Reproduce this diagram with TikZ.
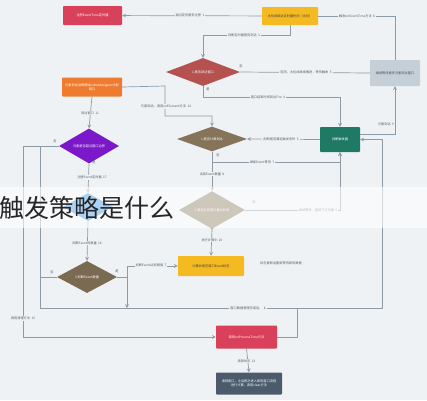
\documentclass[tikz,border=0pt]{standalone}
\usepackage{fontspec}
\setmainfont{Noto Sans CJK SC}
\usepackage{tikz}
\usetikzlibrary{shapes,arrows,positioning}

\definecolor{bgcol}{HTML}{EEF2F5}
\definecolor{linecol}{HTML}{8C9BA6}
\definecolor{redcol}{HTML}{D9415A}
\definecolor{yellowcol}{HTML}{F5B921}
\definecolor{graycol}{HTML}{C5CFD8}
\definecolor{rustcol}{HTML}{B5524F}
\definecolor{orangecol}{HTML}{EE7B30}
\definecolor{tancol}{HTML}{857459}
\definecolor{greencol}{HTML}{1E7A64}
\definecolor{purplecol}{HTML}{7B18C9}
\definecolor{bluecol}{HTML}{2E8FE0}
\definecolor{browncol}{HTML}{7B6A52}
\definecolor{darkcol}{HTML}{4B5B6B}
\definecolor{txtcol}{HTML}{555F66}

\newcommand\lblfont{\fontsize{3.2}{3.9}\selectfont}

\begin{document}
\begin{tikzpicture}[x=1pt, y=-1pt]
			\tikzstyle{Box}		= [rectangle, rounded corners=0.8pt, inner sep=1pt, align=center, font=\lblfont, text=white]
			\tikzstyle{Decision}	= [diamond, inner sep=0pt, align=center, font=\lblfont, text=white]
			\tikzstyle{Label}	= [fill=bgcol, inner sep=1pt, font=\lblfont, text=txtcol]
			\tikzstyle{Mark}	= [inner sep=0pt, font=\lblfont, text=txtcol]
			\tikzstyle{Link}	= [linecol, line width=0.7pt, rounded corners=2pt, >=stealth]

			\useasboundingbox (0,0) rectangle (427,400);
			\fill [bgcol] (0,0) rectangle (427,400);

			\node (b1) at (92.5,15.5) [Box][fill=redcol, minimum width=59pt, minimum height=19pt] {注册EventTime定时器};
			\node (b2) at (290,16) [Box][fill=yellowcol, text=black!75, minimum width=56pt, minimum height=18pt] {水位线到达定时器时间（水位）};
			\node (b3) at (395,73) [Box][fill=graycol, text=black!70, minimum width=50pt, minimum height=26pt] {继续等待更多元素到达窗口};
			\node (b4) at (92,87) [Box][fill=orangecol, minimum width=60pt, minimum height=19pt] {元素到达后根据WindowAssigner分配\\窗口};
			\node (b5) at (340,139.5) [Box][fill=greencol, minimum width=40pt, minimum height=25pt] {判断触发器};
			\node (b6) at (211,266) [Box][fill=yellowcol, text=black!75, minimum width=66pt, minimum height=20pt] {计算并清空窗口Event状态};
			\node (b7) at (246.5,337) [Box][fill=redcol, minimum width=61pt, minimum height=23pt] {调用onProcessTime方法};
			\node (b8) at (249,383.5) [Box][fill=darkcol, minimum width=66pt, minimum height=22pt] {清除窗口，之后再次进入新的窗口流程\\进行计算，调用clear方法};

			\node (d1) at (203,72) [Decision][fill=rustcol, minimum width=74pt, minimum height=28pt] {1.是否到达窗口};
			\node (d2) at (212,139) [Decision][fill=tancol, minimum width=70pt, minimum height=24pt] {1.是否计数到达};
			\node (d3) at (89,146) [Decision][fill=purplecol, minimum width=60pt, minimum height=26pt] {元素是否超过窗口边界};
			\node (d4) at (212,210) [Decision][fill=tancol, minimum width=66pt, minimum height=26pt] {3.是否达到窗口最大时间};
			\node (d5) at (88,207) [Decision][fill=bluecol, minimum width=50pt, minimum height=28pt] {};
			\node (d6) at (87,277) [Decision][fill=browncol, minimum width=60pt, minimum height=32pt] {3.判断Event数量};

			\coordinate (c1) at (165,86);
			\coordinate (c2) at (212,162);
			\coordinate (c3) at (23,146);
			\coordinate (c4) at (40,146);
			\coordinate (c5) at (127,277);
			\coordinate (c6) at (297,308);

			\draw [->] (b2) to (b1) [Link];
			\draw [-] (b2.east) -| (b3.north) [Link];
			\draw [->] (b2.south) |- (d1.north |- 0,35) -- (d1.north) [Link];
			\draw [-] (d1.east) to (b3.west) [Link];
			\draw [->] (d1.south) |- (b5.north |- 0,97) -- (b5.north) [Link];
			\draw [->] ([yshift=5pt]b5.east) -| (b3.south) [Link];
			\draw [->] (b4.south) to (d3.north) [Link];
			\draw [->] (b4.east) -- (c1) |- (d2.north |- 0,116) -- (d2.north) [Link];
			\draw [->] (b5.west) to (d2.east) [Link];
			\draw [->] (d2.south) -- (c2) -| (b5.south) [Link];
			\draw [->] (c2) to (d4.north) [Link];
			\draw [->] (d4.east) -| (b5.south) [Link];
			\draw [->] (d4.south) to (b6.north) [Link];
			\draw [->] (d3.south) to (d5.north) [Link];
			\draw [->] (d5.south) to (d6.north) [Link];
			\draw [->] (d3.west) -- (c3) |- (b7.west) [Link];
			\draw [->] (d3.west) -- (c4) -- (40,308) -- (382,308) -- (382,139.5) -- (b5.east) [Link];
			\draw [-] (d6.west) to (d6.west -| c4) [Link];
			\draw [->] (d6.east) -- (c5) |- (b6.west) [Link];
			\draw [->] (c5) to (127,308) [Link];
			\draw [-] (b7.east) -| (c6) [Link];
			\draw [->] (b7.south) to (b8.north) [Link];

			\node (l1) at (190,15.5) [Label] {通过定时服务注册\ \ 1};
			\node (l2) at (357,16) [Label] {触发onEventTime方法\ \ 6};
			\node (l3) at (244,35) [Label] {判断定时器是否到达\ \ 3};
			\node (l4) at (306,72) [Label] {否则，水位线继续推进，等待触发\ \ 5};
			\node (l5) at (268,97) [Label] {窗口结束时间到达Fire\ \ 4};
			\node (l6) at (386,124) [Label] {元素到达\ \ 9};
			\node (l7) at (90,113) [Label] {到达窗口\ \ 11};
			\node (l8) at (166,106.5) [Label] {元素到达，调用onElement方法\ \ 12};
			\node (l9) at (281,139.5) [Label] {判断是否满足触发条件\ \ 5};
			\node (l10) at (262,162) [Label] {继续Event等待\ \ 7};
			\node (l11) at (212,174) [Label] {达到Event数量\ \ 8};
			\node (l12) at (318,210) [Label] {继续等待，直到下次元素\ \ 9};
			\node (l13) at (212,240) [Label] {执行计算中\ \ 20};
			\node (l14) at (92,177) [Label] {注册Event定时器\ \ 17};
			\node (l15) at (87,243) [Label] {判断Event的数量\ \ 16};
			\node (l16) at (151,265.5) [Label] {判断Event达到阈值\ \ 7};
			\node (l17) at (248,308) [Label] {窗口数据清理完成后，\ \ 8};
			\node (l18) at (23,318) [Label] {调用清理方法\ \ 15};
			\node (l19) at (246.5,361) [Label] {清除状态\ \ 21};
			\node (l20) at (281,263) [Mark] {状态更新后重新等待新的数据};

			\node (m1) at (241,66) [Mark] {否};
			\node (m2) at (208,89) [Mark] {是};
			\node (m3) at (218,155) [Mark] {否};
			\node (m4) at (254,202) [Mark] {否};
			\node (m5) at (55,141) [Mark] {否};
			\node (m6) at (94,162) [Mark] {是};
			\node (m7) at (52,272) [Mark] {否};
			\node (m8) at (117,271) [Mark] {是};

			\fill [white, opacity=0.6] (0,187) rectangle (427,228);
			\node (title) at (-1,207.5) [anchor=west, inner sep=0pt, font=\fontsize{25}{25}\selectfont, text=black!85] {触发策略是什么};
\end{tikzpicture}
\end{document}
